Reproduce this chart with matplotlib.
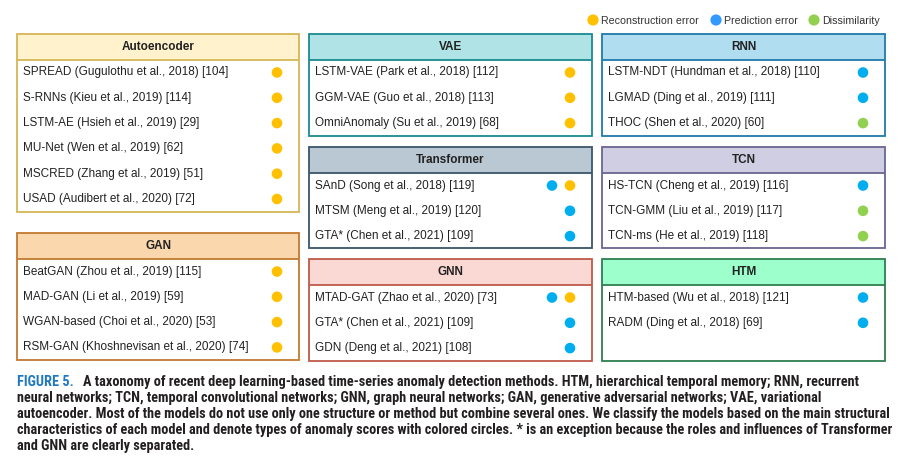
import matplotlib
matplotlib.use("Agg")
import matplotlib.pyplot as plt
from matplotlib.patches import Rectangle, Circle
from matplotlib import font_manager

# ---------------- data ----------------
groups = ["Autoencoder", "VAE", "RNN", "Transformer", "TCN", "GAN", "GNN", "HTM"]

autoencoder_methods = ["SPREAD (Gugulothu et al., 2018) [104]", "S-RNNs (Kieu et al., 2019) [114]",
                       "LSTM-AE (Hsieh et al., 2019) [29]", "MU-Net (Wen et al., 2019) [62]",
                       "MSCRED (Zhang et al., 2019) [51]", "USAD (Audibert et al., 2020) [72]"]
autoencoder_scores = [["R"], ["R"], ["R"], ["R"], ["R"], ["R"]]

vae_methods = ["LSTM-VAE (Park et al., 2018) [112]", "GGM-VAE (Guo et al., 2018) [113]",
               "OmniAnomaly (Su et al., 2019) [68]"]
vae_scores = [["R"], ["R"], ["R"]]

rnn_methods = ["LSTM-NDT (Hundman et al., 2018) [110]", "LGMAD (Ding et al., 2019) [111]",
               "THOC (Shen et al., 2020) [60]"]
rnn_scores = [["P"], ["P"], ["D"]]

transformer_methods = ["SAnD (Song et al., 2018) [119]", "MTSM (Meng et al., 2019) [120]",
                       "GTA* (Chen et al., 2021) [109]"]
transformer_scores = [["P", "R"], ["P"], ["P"]]

tcn_methods = ["HS-TCN (Cheng et al., 2019) [116]", "TCN-GMM (Liu et al., 2019) [117]",
               "TCN-ms (He et al., 2019) [118]"]
tcn_scores = [["P"], ["D"], ["D"]]

gan_methods = ["BeatGAN (Zhou et al., 2019) [115]", "MAD-GAN (Li et al., 2019) [59]",
               "WGAN-based (Choi et al., 2020) [53]", "RSM-GAN (Khoshnevisan et al., 2020) [74]"]
gan_scores = [["R"], ["R"], ["R"], ["R"]]

gnn_methods = ["MTAD-GAT (Zhao et al., 2020) [73]", "GTA* (Chen et al., 2021) [109]",
               "GDN (Deng et al., 2021) [108]"]
gnn_scores = [["P", "R"], ["P"], ["P"]]

htm_methods = ["HTM-based (Wu et al., 2018) [121]", "RADM (Ding et al., 2018) [69]"]
htm_scores = [["P"], ["P"]]

score_keys = ["R", "P", "D"]
score_labels = ["Reconstruction error", "Prediction error", "Dissimilarity"]

caption_label = "FIGURE 5."
caption_lines = [
    "A taxonomy of recent deep learning-based time-series anomaly detection methods. HTM, hierarchical temporal memory; RNN, recurrent",
    "neural networks; TCN, temporal convolutional networks; GNN, graph neural networks; GAN, generative adversarial networks; VAE, variational",
    "autoencoder. Most of the models do not use only one structure or method but combine several ones. We classify the models based on the main structural",
    "characteristics of each model and denote types of anomaly scores with colored circles. * is an exception because the roles and influences of Transformer",
    "and GNN are clearly separated.",
]

# ---------------- styling / layout ----------------
group_methods = [autoencoder_methods, vae_methods, rnn_methods, transformer_methods,
                 tcn_methods, gan_methods, gnn_methods, htm_methods]
group_scores = [autoencoder_scores, vae_scores, rnn_scores, transformer_scores,
                tcn_scores, gan_scores, gnn_scores, htm_scores]
box_layout = {
    "Autoencoder": (17, 34, 299, 212),
    "VAE": (309, 34, 592, 136),
    "RNN": (602, 34, 885, 136),
    "Transformer": (309, 147, 592, 248),
    "TCN": (602, 147, 885, 248),
    "GAN": (17, 233, 299, 360),
    "GNN": (309, 259, 592, 361),
    "HTM": (602, 259, 885, 361),
}
box_colors = {
    "Autoencoder": ("#FFF2CC", "#D6B656"),
    "VAE": ("#B0E3E6", "#1A8A91"),
    "RNN": ("#B1DDF0", "#1F7BAA"),
    "Transformer": ("#BAC8D3", "#3A556B"),
    "TCN": ("#D0CEE2", "#6A6592"),
    "GAN": ("#FAD7AC", "#C27A2E"),
    "GNN": ("#FAD9D5", "#BE5A4A"),
    "HTM": ("#9CFFCC", "#2E7D4F"),
}
dot_colors = {"R": "#FFC000", "P": "#00AEEF", "D": "#92D050"}
legend_colors = {"R": "#FFC000", "P": "#3399FF", "D": "#92D050"}

W, H = 901, 462
fig = plt.figure(figsize=(W / 100, H / 100), dpi=100)
ax = fig.add_axes([0, 0, 1, 1])
ax.set_xlim(0, W)
ax.set_ylim(H, 0)
ax.axis("off")

body_font = "Liberation Sans"
txt_color = "#222222"
header_h = 25.5
row0 = 38.5
pitch = 25.3
lw = 1.3

for g, methods, scores in zip(groups, group_methods, group_scores):
    x0, y0, x1, y1 = box_layout[g]
    fill, edge = box_colors[g]
    ax.add_patch(Rectangle((x0, y0), x1 - x0, header_h, facecolor=fill, edgecolor="none", zorder=1))
    ax.add_patch(Rectangle((x0, y0), x1 - x0, y1 - y0, facecolor="none", edgecolor=edge, lw=lw, zorder=3))
    ax.plot([x0, x1], [y0 + header_h, y0 + header_h], color=edge, lw=lw, zorder=3, solid_capstyle="butt")
    ax.text((x0 + x1) / 2, y0 + header_h / 2 + 0.5, g, ha="center", va="center", fontsize=8.5,
            fontweight="bold", family=body_font, color=txt_color, zorder=4)
    for i, (m, sc) in enumerate(zip(methods, scores)):
        yy = y0 + row0 + i * pitch
        ax.text(x0 + 6, yy, m, ha="left", va="center", fontsize=8.5, family=body_font,
                color=txt_color, zorder=4)
        for j, s in enumerate(reversed(sc)):
            cx = x1 - 22 - j * 18
            ax.add_patch(Circle((cx, yy), 5.3, facecolor=dot_colors[s], edgecolor="none", zorder=4))

# legend
legend_x = [593, 716, 814]
for lx, k, lab in zip(legend_x, score_keys, score_labels):
    ax.add_patch(Circle((lx, 20), 5.6, facecolor=legend_colors[k], edgecolor="none", zorder=4))
    ax.text(lx + 8, 20.5, lab, ha="left", va="center", fontsize=7.7, family=body_font, color="#333333")

# caption font: prefer a narrow face
names = {f.name for f in font_manager.fontManager.ttflist}
cap_font = None
for n in ["Liberation Sans Narrow", "Roboto Condensed", "Open Sans Condensed", "Noto Sans Condensed",
          "DejaVu Sans Condensed"]:
    if n in names:
        cap_font = n
        break
if cap_font is None:
    cap_font = "Liberation Sans"

cap_size = 8.2
fig.canvas.draw()
r = fig.canvas.get_renderer()
probe = ax.text(0, 0, caption_lines[2], fontsize=cap_size, fontweight="bold", family=cap_font)
wpx = probe.get_window_extent(r).width
probe.remove()
target = 890 - 17
cap_size = cap_size * target / wpx

cap_y0 = 382
cap_pitch = 16
lab_t = ax.text(17, cap_y0, caption_label, ha="left", va="center", fontsize=cap_size, fontweight="bold",
                family=cap_font, color="#1F78C1")
fig.canvas.draw()
lab_w = lab_t.get_window_extent(r).width
for i, line in enumerate(caption_lines):
    xx = 17 + (lab_w + 9 if i == 0 else 0)
    ax.text(xx, cap_y0 + i * cap_pitch, line, ha="left", va="center", fontsize=cap_size,
            fontweight="bold", family=cap_font, color="#231F20")

fig.savefig("out.png", dpi=100)
